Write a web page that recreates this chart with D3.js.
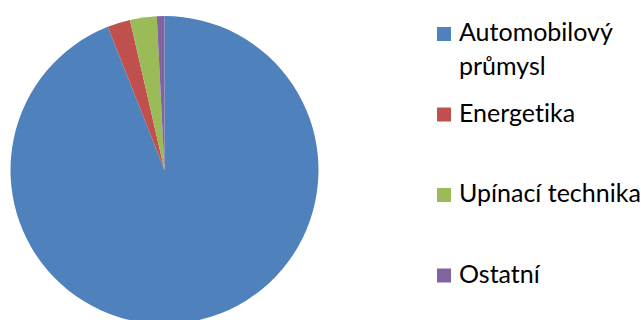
<!DOCTYPE html>
<html>
<head>
<meta charset="utf-8">
<script src="https://cdn.jsdelivr.net/npm/d3@7"></script>
<style>
  html, body { margin: 0; padding: 0; background: #fff; }
  svg { display: block; }
  text { font-variant-ligatures: none; font-feature-settings: "liga" 0, "clig" 0; }
</style>
</head>
<body>
<svg id="chart" width="641" height="320"></svg>
<script>
// Share of production by sector (%)
const categories = ["Automobilový průmysl", "Energetika", "Upínací technika", "Ostatní"];
const values = [94.0, 2.4, 2.8, 0.8];
const legendLines = [["Automobilový", "průmysl"], ["Energetika"], ["Upínací technika"], ["Ostatní"]];
const colors = ["#4F81BD", "#C0504D", "#9BBB59", "#8064A2"];

const svg = d3.select("#chart");
const cx = 164.5, cy = 170, radius = 154;

const pie = d3.pie().sort(null).value(d => d.value);
const arc = d3.arc().innerRadius(0).outerRadius(radius);
const color = d3.scaleOrdinal().domain(categories).range(colors);

const data = categories.map((c, i) => ({ name: c, value: values[i] }));

svg.append("g")
  .attr("transform", `translate(${cx},${cy})`)
  .selectAll("path")
  .data(pie(data))
  .join("path")
  .attr("d", arc)
  .attr("fill", d => color(d.data.name));

// Legend
const legendY = d3.scalePoint().domain(categories).range([41, 282.5]);
const legend = svg.append("g").attr("font-family", "Lato, 'Open Sans', sans-serif").attr("font-size", 25);

const item = legend.selectAll("g")
  .data(categories)
  .join("g")
  .attr("transform", d => `translate(0,${legendY(d)})`);

item.append("rect")
  .attr("x", 437)
  .attr("y", -14)
  .attr("width", 14)
  .attr("height", 14)
  .attr("fill", d => color(d));

item.append("text")
  .attr("x", 459)
  .attr("y", 0)
  .attr("fill", "#000")
  .selectAll("tspan")
  .data((d, i) => legendLines[i])
  .join("tspan")
  .attr("x", 459)
  .attr("dy", (d, j) => j === 0 ? 0 : 34)
  .text(d => d);
</script>
</body>
</html>
